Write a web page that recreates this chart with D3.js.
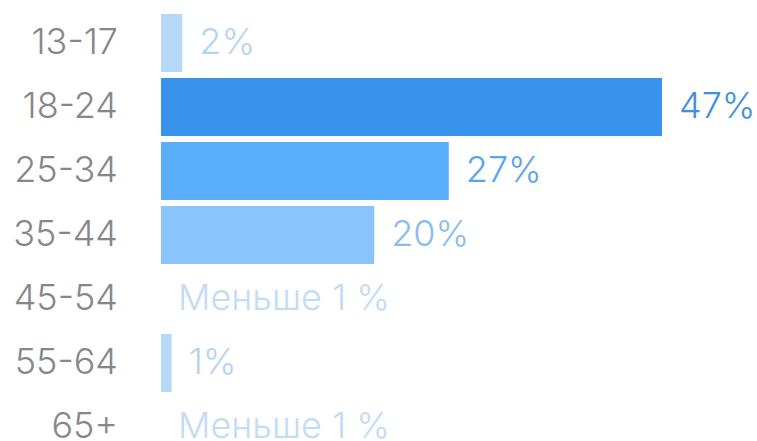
<!DOCTYPE html>
<html>
<head>
<meta charset="utf-8">
<script src="https://cdn.jsdelivr.net/npm/d3@7"></script>
<style>
  html, body { margin: 0; padding: 0; background: #ffffff; }
  svg { display: block; }
  text { font-family: "Inter", "Liberation Sans", Arial, sans-serif; font-weight: 300; }
</style>
</head>
<body>
<svg id="chart" width="757" height="441"></svg>
<script>
// Age groups and their share of the audience, in percent.
// null means the share is below 1 % and no bar is drawn.
const categories = ["13-17", "18-24", "25-34", "35-44", "45-54", "55-64", "65+"];
const values = [2, 47, 27, 20, null, 1, null];
const belowOneLabel = "Меньше 1 %";

const width = 757, height = 441;
const margin = { top: 11, left: 161, right: 95, bottom: 0 };
const fontSize = 36;
const baselineShift = 11;

const svg = d3.select("#chart");

const x = d3.scaleLinear()
  .domain([0, 47])
  .range([margin.left, width - margin.right]);

const y = d3.scaleBand()
  .domain(categories)
  .range([margin.top, margin.top + 64 * categories.length])
  .paddingInner(6 / 64)
  .paddingOuter(3 / 64);

// Bar shade by size of share
const barColor = d3.scaleThreshold()
  .domain([5, 24, 40])
  .range(["#b6d9fa", "#8bc4fb", "#5baefa", "#3893ec"]);
const labelColor = d3.scaleThreshold()
  .domain([5, 24, 40])
  .range(["#b4d4f3", "#8abdec", "#5aa4ea", "#3f91e0"]);

const rows = categories.map((c, i) => ({ category: c, value: values[i] }));
const mid = d => y(d.category) + y.bandwidth() / 2;

// Category labels, right-aligned
svg.append("g")
  .selectAll("text")
  .data(rows)
  .join("text")
  .attr("x", 118)
  .attr("y", d => mid(d) + baselineShift)
  .attr("text-anchor", "end")
  .attr("font-size", fontSize)
  .attr("fill", "#87878b")
  .text(d => d.category);

// Bars
svg.append("g")
  .selectAll("rect")
  .data(rows.filter(d => d.value != null))
  .join("rect")
  .attr("x", x(0))
  .attr("y", d => y(d.category))
  .attr("width", d => x(d.value) - x(0))
  .attr("height", y.bandwidth())
  .attr("fill", d => barColor(d.value));

// Value labels
svg.append("g")
  .selectAll("text")
  .data(rows)
  .join("text")
  .attr("x", d => (d.value != null ? x(d.value) : x(0)) + 17)
  .attr("y", d => mid(d) + baselineShift)
  .attr("font-size", fontSize)
  .attr("fill", d => d.value != null ? labelColor(d.value) : "#c2dcf5")
  .text(d => d.value != null ? d.value + "%" : belowOneLabel);
</script>
</body>
</html>
